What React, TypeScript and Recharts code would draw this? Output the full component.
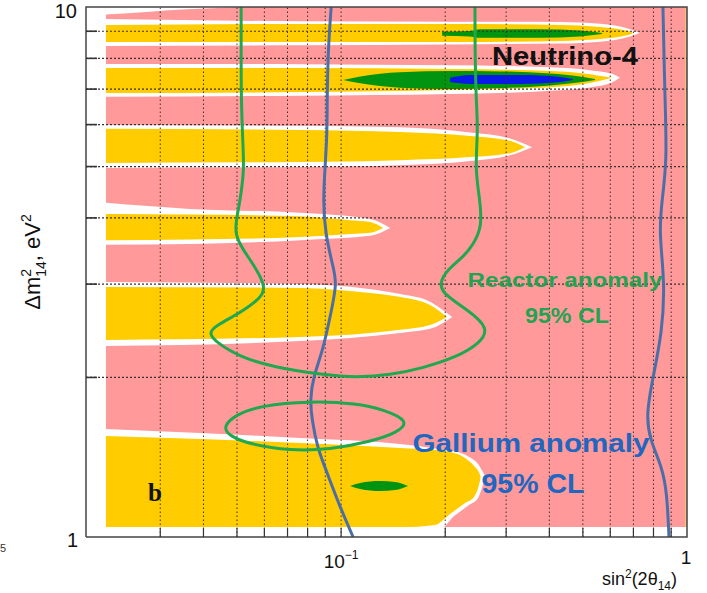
import React from 'react';
import { ComposedChart, Area, Line, XAxis, YAxis } from 'recharts';

// ---- axes ----
const X_MIN = 0.0183;
const X_MAX = 1;
const Y_MIN = 1;
const Y_MAX = 10;
const xTicks = [0.03, 0.04, 0.05, 0.06, 0.07, 0.08, 0.09, 0.1, 0.2, 0.3, 0.4, 0.5, 0.6, 0.7, 0.8, 0.9, 1];
const yTicks = [1, 2, 3, 4, 5, 6, 7, 8, 9, 10];
const xGridValues = [0.03, 0.04, 0.05, 0.06, 0.07, 0.08, 0.09, 0.1, 0.2, 0.3, 0.4, 0.5, 0.6, 0.7, 0.8, 0.9];
const yGridValues = [2, 3, 4, 5, 6, 7, 8, 9];

// ---- regions: [sin^2(2θ), Δm² low, Δm² high] ----
type Band = [number, number, number][];
const excludedRegion: Band = [[0.0209, 1.044, 10], [0.987, 1.044, 10]];
const rightEdgeStrip: Band = [[0.987, 1.044, 10], [1, 1.044, 10]];
const topLeftGap: Band = [[0.0209, 9.68, 10], [0.028, 9.8, 10], [0.036, 9.9, 10], [0.05, 9.99, 10]];

const haloA: Band = [[0.0209, 8.44, 9.49], [0.0762, 8.47, 9.4], [0.2065, 8.5, 9.38], [0.4295, 8.53, 9.37], [0.5609, 8.6, 9.3], [0.6841, 8.8, 9.08], [0.731, 8.93, 8.93]];
const bandA: Band = [[0.0209, 8.59, 9.25], [0.0762, 8.59, 9.29], [0.2065, 8.59, 9.29], [0.4295, 8.63, 9.25], [0.5609, 8.7, 9.17], [0.6841, 8.87, 8.99], [0.698, 8.93, 8.93]];
const haloB: Band = [[0.0209, 6.77, 7.81], [0.0762, 6.8, 7.8], [0.2065, 6.85, 7.76], [0.4018, 6.95, 7.7], [0.5245, 7.05, 7.6], [0.607, 7.2, 7.48], [0.64, 7.35, 7.35]];
const bandB: Band = [[0.0209, 6.88, 7.67], [0.0762, 6.91, 7.67], [0.2065, 6.97, 7.64], [0.4018, 7.06, 7.57], [0.5245, 7.19, 7.47], [0.607, 7.35, 7.35]];
const haloC: Band = [[0.0209, 4.97, 5.99], [0.0762, 4.99, 5.97], [0.1482, 5.03, 5.93], [0.2361, 5.12, 5.8], [0.3079, 5.25, 5.65], [0.3565, 5.44, 5.44]];
const bandC: Band = [[0.0209, 5.08, 5.89], [0.0762, 5.1, 5.86], [0.1482, 5.14, 5.81], [0.2361, 5.21, 5.71], [0.3079, 5.3, 5.59], [0.3401, 5.44, 5.44]];
const haloD: Band = [[0.0209, 3.56, 4.27], [0.0366, 3.57, 4.16], [0.0762, 3.63, 4.09], [0.1213, 3.7, 3.98], [0.1386, 3.83, 3.83]];
const bandD: Band = [[0.0209, 3.63, 4.07], [0.0366, 3.64, 4.06], [0.0762, 3.68, 4.03], [0.1062, 3.73, 3.96], [0.1213, 3.75, 3.93], [0.1323, 3.83, 3.83]];
const haloE: Band = [[0.0209, 2.293, 3.028], [0.0762, 2.343, 3.002], [0.1482, 2.427, 2.873], [0.1808, 2.47, 2.78], [0.2094, 2.601, 2.601]];
const bandE: Band = [[0.0209, 2.353, 2.963], [0.0762, 2.385, 2.95], [0.1213, 2.427, 2.886], [0.1482, 2.46, 2.837], [0.1808, 2.512, 2.74], [0.2024, 2.601, 2.601]];
const haloF: Band = [[0.0209, 1.031, 1.599], [0.0391, 1.031, 1.571], [0.0762, 1.031, 1.538], [0.1482, 1.031, 1.498], [0.1919, 1.031, 1.466], [0.2122, 1.095, 1.453], [0.2344, 1.149, 1.416], [0.2489, 1.185, 1.373], [0.259, 1.27, 1.315], [0.2625, 1.298, 1.298]];
const bandF: Band = [[0.0209, 1.044, 1.551], [0.0391, 1.044, 1.531], [0.0762, 1.044, 1.504], [0.1482, 1.044, 1.472], [0.187, 1.054, 1.459], [0.2065, 1.105, 1.447], [0.2283, 1.159, 1.41], [0.2423, 1.19, 1.361], [0.2522, 1.281, 1.309], [0.2532, 1.298, 1.298]];

// Neutrino-4 best-fit islands
const greenIslandA: Band = [[0.1959, 8.83, 8.98], [0.235, 8.8, 9.01], [0.2522, 8.75, 9.08], [0.3758, 8.75, 9.08], [0.4906, 8.8, 9.03], [0.5679, 8.89, 8.93]];
const greenIslandB: Band = [[0.1013, 7.28, 7.28], [0.1135, 7.18, 7.39], [0.1482, 7.04, 7.53], [0.2065, 7.0, 7.57], [0.2881, 7.03, 7.56], [0.4018, 7.11, 7.49], [0.4906, 7.21, 7.39], [0.542, 7.28, 7.31]];
const blueIslandB: Band = [[0.2065, 7.22, 7.35], [0.2361, 7.16, 7.44], [0.3291, 7.16, 7.44], [0.4295, 7.22, 7.38], [0.468, 7.28, 7.31]];
const greenIslandF: Band = [[0.1062, 1.248, 1.248], [0.1135, 1.232, 1.264], [0.1296, 1.221, 1.275], [0.1432, 1.226, 1.27], [0.1562, 1.248, 1.248]];

// ---- contours: [sin^2(2θ), Δm²] ----
type Path = [number, number][];
const reactorContour: Path = [[0.0514, 10], [0.0514, 8.3], [0.0514, 6.67], [0.0521, 5.37], [0.0524, 4.93], [0.0511, 4.32], [0.0497, 3.96], [0.0494, 3.71], [0.0521, 3.48], [0.0572, 3.19], [0.0603, 2.963], [0.0591, 2.837], [0.0511, 2.647], [0.0438, 2.512], [0.0412, 2.427], [0.0438, 2.323], [0.0511, 2.186], [0.0636, 2.093], [0.0887, 2.021], [0.1112, 2.0], [0.1385, 2.021], [0.1726, 2.084], [0.2164, 2.186], [0.2522, 2.323], [0.2655, 2.46], [0.2472, 2.601], [0.2164, 2.764], [0.1971, 2.886], [0.1925, 3.015], [0.2024, 3.19], [0.2253, 3.375], [0.2407, 3.556], [0.2555, 3.846], [0.2522, 4.32], [0.2438, 4.93], [0.2489, 5.86], [0.2456, 6.67], [0.2438, 8.3], [0.2438, 10]];
const reactorIsland: Path = [[0.0455, 1.613], [0.0494, 1.699], [0.0583, 1.77], [0.0813, 1.805], [0.1112, 1.787], [0.1323, 1.74], [0.158, 1.655], [0.1452, 1.572], [0.1213, 1.513], [0.0929, 1.462], [0.0712, 1.455], [0.0546, 1.495], [0.0475, 1.551]];
const galliumLeft: Path = [[0.0936, 10], [0.0917, 8.3], [0.0911, 6.67], [0.0911, 5.78], [0.0899, 4.99], [0.0887, 4.32], [0.0899, 3.75], [0.0948, 3.23], [0.0974, 3.015], [0.0929, 2.601], [0.0887, 2.254], [0.083, 2.004], [0.0813, 1.814], [0.0824, 1.663], [0.0852, 1.479], [0.0911, 1.321], [0.0993, 1.139], [0.1083, 1]];
const galliumRight: Path = [[0.852, 10], [0.8636, 6.67], [0.8754, 5.14], [0.8467, 4.32], [0.83, 3.75], [0.8636, 3.015], [0.8467, 2.427], [0.7977, 2.004], [0.7612, 1.699], [0.7818, 1.524], [0.8467, 1.356], [0.8754, 1.211], [0.887, 1]];

// ---- colours ----
const PINK = '#ff999a';
const YELLOW = '#ffcc00';
const WHITE = '#ffffff';
const ISLAND_GREEN = '#009410';
const ISLAND_BLUE = '#0a18e8';
const REACTOR_GREEN = '#1fa84f';
const GALLIUM_BLUE = '#4a6fa8';
const FONT = '"Liberation Sans", Arial, Helvetica, sans-serif';

const toRange = (b: Band) => b.map(([x, lo, hi]) => ({ x, r: [lo, hi] }));
const toPath = (p: Path) => p.map(([x, y]) => ({ x, y }));

const fills: { data: Band; color: string }[] = [
  { data: excludedRegion, color: PINK },
  { data: rightEdgeStrip, color: '#f2c277' },
  { data: topLeftGap, color: WHITE },
  { data: haloA, color: WHITE },
  { data: bandA, color: YELLOW },
  { data: haloB, color: WHITE },
  { data: bandB, color: YELLOW },
  { data: haloC, color: WHITE },
  { data: bandC, color: YELLOW },
  { data: haloD, color: WHITE },
  { data: bandD, color: YELLOW },
  { data: haloE, color: WHITE },
  { data: bandE, color: YELLOW },
  { data: haloF, color: WHITE },
  { data: bandF, color: YELLOW },
  { data: greenIslandA, color: ISLAND_GREEN },
  { data: greenIslandB, color: ISLAND_GREEN },
  { data: blueIslandB, color: ISLAND_BLUE },
  { data: greenIslandF, color: ISLAND_GREEN },
];

const vGridData = xGridValues.flatMap((v) => [
  { x: v, y: Y_MIN },
  { x: v, y: Y_MAX },
  { x: v, y: null },
]);
const hGridData = yGridValues.flatMap((v) => [
  { x: X_MIN, y: v },
  { x: X_MAX, y: v },
  { x: X_MAX, y: null },
]);
const frameData = [
  { x: X_MIN, y: Y_MIN },
  { x: X_MAX, y: Y_MIN },
  { x: X_MAX, y: Y_MAX },
  { x: X_MIN, y: Y_MAX },
  { x: X_MIN, y: Y_MIN },
];

const XTick = (props: any) => {
  const { x, y, payload } = props;
  const v = payload.value;
  return (
    <g>
      {v < 1 && <line x1={x} y1={y} x2={x} y2={y - 9} stroke="#333" strokeWidth={1.2} />}
      {v === 0.1 && (
        <text x={x} y={y + 31} textAnchor="middle" fontSize={19} fontFamily={FONT} fill="#111">
          10<tspan dy={-9} fontSize={12}>−1</tspan>
        </text>
      )}
      {v === 1 && (
        <text x={x - 1} y={y + 27} textAnchor="middle" fontSize={19} fontFamily={FONT} fill="#111">
          1
        </text>
      )}
    </g>
  );
};

const YTick = (props: any) => {
  const { x, y, payload } = props;
  const v = payload.value;
  return (
    <g>
      {v > 1 && v < 10 && <line x1={x} y1={y} x2={x + 11} y2={y} stroke="#333" strokeWidth={1.6} />}
      {v === 10 && (
        <text x={x - 9} y={y + 11} textAnchor="end" fontSize={20} fontFamily={FONT} fill="#111">
          10
        </text>
      )}
      {v === 1 && (
        <text x={x - 8} y={y + 10} textAnchor="end" fontSize={20} fontFamily={FONT} fill="#111">
          1
        </text>
      )}
    </g>
  );
};

export default function App() {
  return (
    <div style={{ position: 'absolute', left: 0, top: 0, width: 707, height: 593, background: '#fff' }}>
      <ComposedChart width={707} height={593} margin={{ top: 7, right: 20, bottom: 0, left: 0 }}>
        {fills.map((f, i) => (
          <Area
            key={`fill-${i}`}
            data={toRange(f.data)}
            dataKey="r"
            type="monotone"
            stroke="none"
            fill={f.color}
            fillOpacity={1}
            dot={false}
            activeDot={false}
            isAnimationActive={false}
            zIndex={100 + i}
          />
        ))}
        <Line data={vGridData} dataKey="y" type="linear" stroke="#3b3030" strokeWidth={1} strokeDasharray="1.5 2.5" dot={false} activeDot={false} isAnimationActive={false} zIndex={300} />
        <Line data={hGridData} dataKey="y" type="linear" stroke="#3b3030" strokeWidth={1.2} strokeDasharray="2 2" dot={false} activeDot={false} isAnimationActive={false} zIndex={301} />
        <Line data={toPath(galliumLeft)} dataKey="y" type="basis" stroke={GALLIUM_BLUE} strokeWidth={3} dot={false} activeDot={false} isAnimationActive={false} zIndex={400} />
        <Line data={toPath(galliumRight)} dataKey="y" type="basis" stroke={GALLIUM_BLUE} strokeWidth={3} dot={false} activeDot={false} isAnimationActive={false} zIndex={401} />
        <Line data={toPath(reactorContour)} dataKey="y" type="basis" stroke={REACTOR_GREEN} strokeWidth={3} dot={false} activeDot={false} isAnimationActive={false} zIndex={402} />
        <Line data={toPath(reactorIsland)} dataKey="y" type="basisClosed" stroke={REACTOR_GREEN} strokeWidth={3} dot={false} activeDot={false} isAnimationActive={false} zIndex={403} />
        <Line data={frameData} dataKey="y" type="linear" stroke="#444" strokeWidth={1.5} dot={false} activeDot={false} isAnimationActive={false} zIndex={450} />
        <XAxis
          dataKey="x"
          type="number"
          scale="log"
          domain={[X_MIN, X_MAX]}
          ticks={xTicks}
          interval={0}
          tick={(p: any) => <XTick {...p} />}
          tickLine={false}
          axisLine={false}
          tickSize={0}
          tickMargin={0}
          height={56}
          zIndex={600}
        />
        <YAxis
          type="number"
          scale="log"
          domain={[Y_MIN, Y_MAX]}
          ticks={yTicks}
          interval={0}
          tick={(p: any) => <YTick {...p} />}
          tickLine={false}
          axisLine={false}
          tickSize={0}
          tickMargin={0}
          width={86}
          zIndex={601}
        />
      </ComposedChart>
      <svg width={707} height={593} style={{ position: 'absolute', left: 0, top: 0, pointerEvents: 'none' }}>
        <text x={565} y={65} textAnchor="middle" fontSize={26} fontWeight="bold" fontFamily={FONT} fill="#111" textLength={146} lengthAdjust="spacingAndGlyphs">
          Neutrino-4
        </text>
        <text x={565} y={287} textAnchor="middle" fontSize={21} fontWeight="bold" fontFamily={FONT} fill="#22a352" textLength={195} lengthAdjust="spacingAndGlyphs">
          Reactor anomaly
        </text>
        <text x={567} y={323} textAnchor="middle" fontSize={22} fontWeight="bold" fontFamily={FONT} fill="#22a352" textLength={84} lengthAdjust="spacingAndGlyphs">
          95% CL
        </text>
        <text x={531} y={452} textAnchor="middle" fontSize={25} fontWeight="bold" fontFamily={FONT} fill="#2166c0" textLength={237} lengthAdjust="spacingAndGlyphs">
          Gallium anomaly
        </text>
        <text x={533} y={493} textAnchor="middle" fontSize={27} fontWeight="bold" fontFamily={FONT} fill="#2166c0" textLength={103} lengthAdjust="spacingAndGlyphs">
          95% CL
        </text>
        <text x={155} y={501} textAnchor="middle" fontSize={25} fontWeight="bold" fontFamily='"Liberation Serif", "Times New Roman", serif' fill="#111">
          b
        </text>
        <text x={677} y={585} textAnchor="end" fontSize={18} fontFamily={FONT} fill="#111">
          sin<tspan dy={-7} fontSize={12}>2</tspan>
          <tspan dy={7}>(2θ</tspan>
          <tspan dy={5} fontSize={12}>14</tspan>
          <tspan dy={-5}>)</tspan>
        </text>
        <text transform="translate(40,262) rotate(-90)" textAnchor="middle" fontSize={22} fontFamily={FONT} fill="#111">
          Δm<tspan dy={-9} fontSize={14}>2</tspan>
          <tspan dx={-7.8} dy={15} fontSize={14}>14</tspan>
          <tspan dy={-6}>, eV</tspan>
          <tspan dy={-9} fontSize={14}>2</tspan>
        </text>
        <text x={0} y={552} fontSize={11} fontFamily={FONT} fill="#333">5</text>
      </svg>
    </div>
  );
}
